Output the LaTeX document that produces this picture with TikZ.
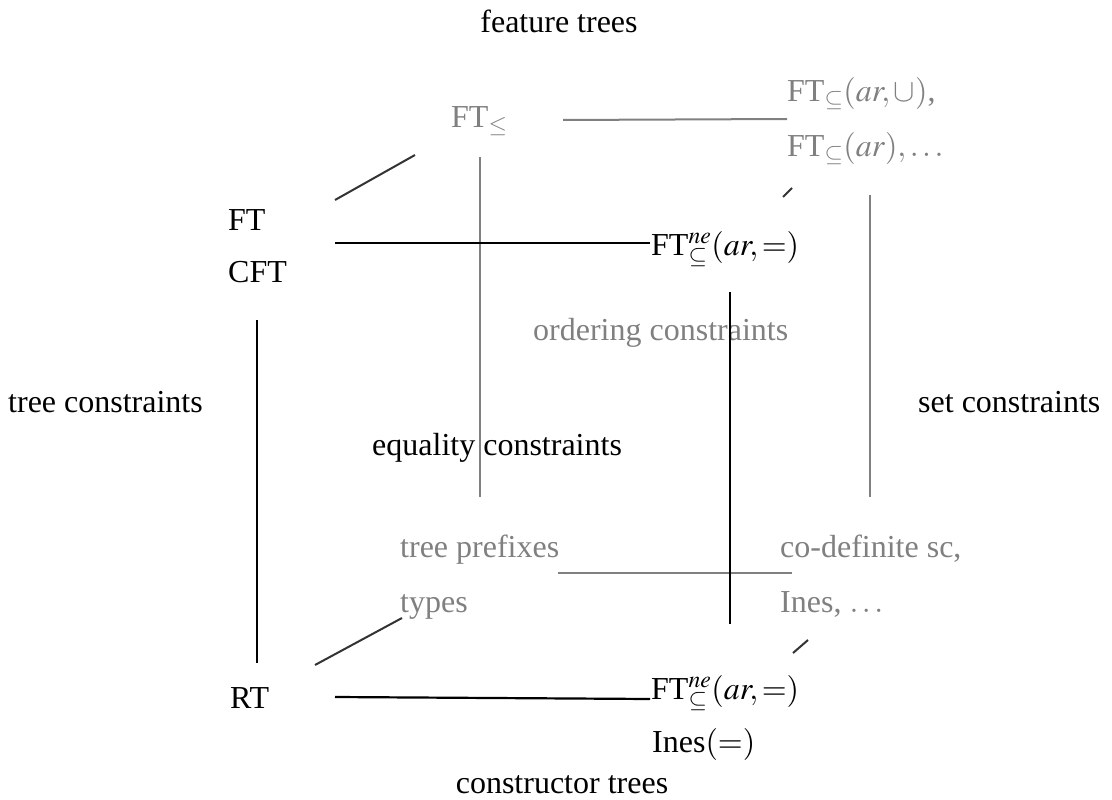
\documentclass[tikz,border=0pt]{standalone}
\usepackage{mathptmx}
\usepackage[no-math]{fontspec}
\setmainfont{Liberation Serif}
\definecolor{lgray}{HTML}{808080}
\definecolor{dgray}{HTML}{333333}
\begin{document}
\begin{tikzpicture}[x=1pt,y=-1pt,
  lbl/.style={inner sep=0pt,anchor=base west,font=\fontsize{32}{38}\selectfont},
  glbl/.style={lbl,text=lgray},
  blk/.style={line width=2.2pt,black},
  gry/.style={line width=2pt,lgray},
  dia/.style={line width=2pt,dgray}]
\useasboundingbox (0,0) rectangle (1112,800);
% labels
\node[lbl,anchor=base] (feat) at (559,33) {feature trees};
\node[lbl,anchor=base] (cons) at (562,793) {constructor trees};
\node[lbl] (treec) at (8,412) {tree constraints};
\node[lbl] (setc) at (918,412) {set constraints};
\node[lbl] (eqc) at (372,455) {equality constraints};
\node[glbl] (ordc) at (533,340) {ordering constraints};
\node[glbl] (ftle) at (451,128) {FT$_{\leq}$};
\node[glbl] (fts1) at (787,102) {FT$_{\subseteq}(ar,\cup)$,};
\node[glbl] (fts2) at (787,157) {FT$_{\subseteq}(ar),\ldots$};
\node[lbl] (ft) at (228,230) {FT};
\node[lbl] (cft) at (228,282) {CFT};
\node[lbl] (ftne1) at (651,255) {FT$^{ne}_{\subseteq}(ar,=)$};
\node[glbl] (tpre) at (400,557) {tree prefixes};
\node[glbl] (types) at (400,612) {types};
\node[glbl] (codef) at (780,557) {co-definite sc,};
\node[glbl] (ines1) at (780,612) {Ines, $\ldots$};
\node[lbl] (rt) at (230,708) {RT};
\node[lbl] (ftne2) at (651,699) {FT$^{ne}_{\subseteq}(ar,=)$};
\node[lbl] (ines2) at (652,752) {Ines$(=)$};
% connector end points
\coordinate (a1) at (335,200); \coordinate (a2) at (415,155);
\coordinate (b1) at (335,243); \coordinate (b2) at (650,243);
\coordinate (c1) at (563,120); \coordinate (c2) at (787,119);
\coordinate (d1) at (480,157); \coordinate (d2) at (480,497);
\coordinate (e1) at (783,197); \coordinate (e2) at (792,188);
\coordinate (f1) at (870,195); \coordinate (f2) at (870,497);
\coordinate (g1) at (730,292); \coordinate (g2) at (730,624);
\coordinate (h1) at (558,573); \coordinate (h2) at (792,573);
\coordinate (i1) at (315,665); \coordinate (i2) at (402,618);
\coordinate (j1) at (793,653); \coordinate (j2) at (808,640);
\coordinate (k1) at (257,320); \coordinate (k2) at (257,663);
\coordinate (l1) at (335,697); \coordinate (l2) at (650,699);
% connectors
\draw[gry] (c1) -- (c2);
\draw[gry] (d1) -- (d2);
\draw[gry] (f1) -- (f2);
\draw[gry] (h1) -- (h2);
\draw[dia] (a1) -- (a2);
\draw[dia] (e1) -- (e2);
\draw[dia] (i1) -- (i2);
\draw[dia] (j1) -- (j2);
\draw[blk] (b1) -- (b2);
\draw[blk] (g1) -- (g2);
\draw[blk] (k1) -- (k2);
\draw[blk] (l1) -- (l2);
\end{tikzpicture}
\end{document}
